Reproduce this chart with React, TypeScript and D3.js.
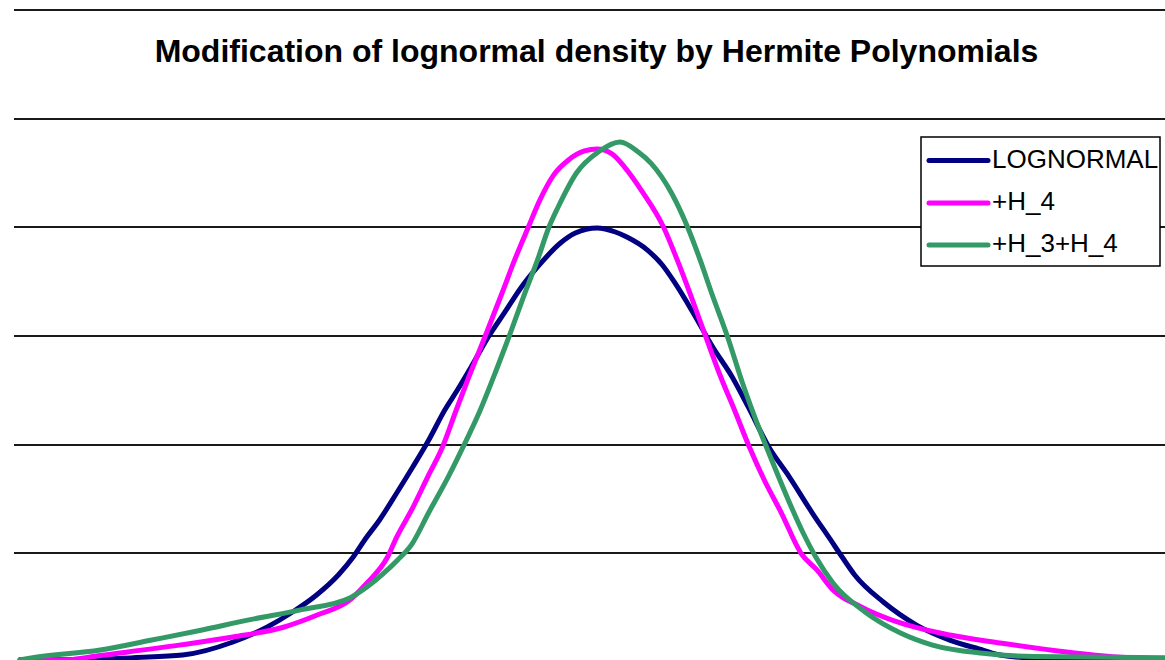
import React from "react";
import * as d3 from "d3";

const TITLE = "Modification of lognormal density by Hermite Polynomials";
const SERIES_NAMES = ["LOGNORMAL", "+H_4", "+H_3+H_4"];
const SERIES_COLORS = ["#000080", "#FF00FF", "#339966"];
const GRID_VALUES = [0.1, 0.2, 0.3, 0.4, 0.5, 0.6];

const lognormalX = [0, 0.57, 0.99, 1.42, 1.86, 2.16, 2.38, 2.59, 2.78, 2.91, 3.01, 3.14, 3.29, 3.43, 3.57, 3.71, 3.82, 3.94, 4.09, 4.23, 4.38, 4.52, 4.72, 4.85, 5.04, 5.2, 5.3, 5.48, 5.61, 5.72, 5.88, 6.05, 6.22, 6.36, 6.54, 6.72, 6.92, 7.08, 7.18, 7.29, 7.54, 7.83, 8.12, 8.41, 8.56, 8.85, 9.43, 10];
const lognormalY = [0.002, 0.002, 0.004, 0.0064, 0.0184, 0.0322, 0.046, 0.0617, 0.0801, 0.0966, 0.1123, 0.1307, 0.1555, 0.1794, 0.2043, 0.2319, 0.2503, 0.2715, 0.2991, 0.3212, 0.3451, 0.3635, 0.3856, 0.3948, 0.3994, 0.3957, 0.3911, 0.3791, 0.3653, 0.3488, 0.3212, 0.2899, 0.2623, 0.2347, 0.1978, 0.1702, 0.1371, 0.1123, 0.0966, 0.0801, 0.0552, 0.034, 0.0202, 0.011, 0.0064, 0.0037, 0.0028, 0.0018];

const h4X = [0, 0.41, 0.7, 1.42, 1.86, 2.3, 2.59, 2.88, 3.03, 3.21, 3.29, 3.42, 3.56, 3.69, 3.81, 3.92, 4.06, 4.21, 4.32, 4.44, 4.54, 4.66, 4.79, 4.93, 5.04, 5.17, 5.28, 5.44, 5.62, 5.74, 5.85, 5.99, 6.12, 6.24, 6.37, 6.5, 6.65, 6.82, 6.96, 7.1, 7.19, 7.28, 7.4, 7.69, 8.12, 8.56, 9.14, 9.58, 10];
const h4Y = [0.001, 0.002, 0.006, 0.016, 0.023, 0.032, 0.043, 0.057, 0.0727, 0.0966, 0.115, 0.1399, 0.1702, 0.1978, 0.2319, 0.2623, 0.2991, 0.3396, 0.37, 0.4003, 0.4251, 0.4481, 0.462, 0.4703, 0.4721, 0.4676, 0.4555, 0.432, 0.4003, 0.37, 0.3396, 0.2991, 0.2623, 0.2319, 0.1978, 0.1675, 0.1371, 0.1003, 0.0847, 0.0663, 0.0589, 0.0543, 0.0479, 0.0359, 0.0248, 0.0175, 0.0092, 0.0046, 0.0028];

const h34X = [0, 0.11, 0.7, 1.14, 1.57, 2.01, 2.45, 2.88, 3.03, 3.17, 3.3, 3.42, 3.57, 3.74, 3.87, 4.02, 4.16, 4.27, 4.41, 4.52, 4.62, 4.7, 4.86, 5.05, 5.24, 5.4, 5.51, 5.69, 5.83, 5.94, 6.04, 6.18, 6.31, 6.46, 6.59, 6.71, 6.84, 6.95, 7.1, 7.38, 7.69, 7.97, 8.41, 8.85, 10];
const h34Y = [0.002, 0.004, 0.011, 0.02, 0.029, 0.039, 0.048, 0.059, 0.069, 0.081, 0.094, 0.108, 0.1376, 0.1703, 0.1979, 0.2319, 0.2687, 0.2991, 0.3396, 0.37, 0.4003, 0.4187, 0.45, 0.4693, 0.4785, 0.4693, 0.4591, 0.4316, 0.4003, 0.37, 0.3396, 0.2991, 0.2567, 0.2135, 0.1794, 0.1491, 0.1187, 0.0966, 0.0727, 0.046, 0.0267, 0.0156, 0.008, 0.005, 0.004];

const W = 1165;
const H = 660;

export default function App() {
  const x = d3.scaleLinear().domain([0, 10]).range([20, 1165]);
  const y = d3.scaleLinear().domain([0, 0.6]).range([662, 10]);
  const line = d3
    .line<[number, number]>()
    .x((d) => x(d[0]))
    .y((d) => y(d[1]))
    .curve(d3.curveMonotoneX);

  const series = [
    d3.zip(lognormalX, lognormalY) as [number, number][],
    d3.zip(h4X, h4Y) as [number, number][],
    d3.zip(h34X, h34Y) as [number, number][],
  ];

  const legendX = 921;
  const legendY = 137;
  const legendW = 239;
  const legendH = 129;
  const rowY = [160.5, 203, 245];

  return (
    <svg
      width={W}
      height={H}
      style={{ position: "absolute", left: 0, top: 0, background: "#fff" }}
      fontFamily="'Liberation Sans', Arial, sans-serif"
    >
      <rect x={0} y={0} width={W} height={H} fill="#fff" />
      {GRID_VALUES.map((v) => (
        <line
          key={v}
          x1={14}
          x2={W}
          y1={Math.round(y(v))}
          y2={Math.round(y(v))}
          stroke="#1a1a1a"
          strokeWidth={2}
        />
      ))}
      <text
        x={596.5}
        y={62}
        textAnchor="middle"
        fontSize={32}
        fontWeight="bold"
        fill="#000"
      >
        {TITLE}
      </text>
      {series.map((s, i) => (
        <path
          key={i}
          d={line(s) || ""}
          fill="none"
          stroke={SERIES_COLORS[i]}
          strokeWidth={5}
          strokeLinejoin="round"
          strokeLinecap="round"
        />
      ))}
      <rect
        x={legendX}
        y={legendY}
        width={legendW}
        height={legendH}
        fill="#fff"
        stroke="#000"
        strokeWidth={1.5}
      />
      {SERIES_NAMES.map((name, i) => (
        <g key={name}>
          <line
            x1={929}
            x2={988}
            y1={rowY[i]}
            y2={rowY[i]}
            stroke={SERIES_COLORS[i]}
            strokeWidth={5}
            strokeLinecap="round"
          />
          <text x={992} y={rowY[i] + 7} fontSize={26} fill="#000">
            {name}
          </text>
        </g>
      ))}
    </svg>
  );
}
